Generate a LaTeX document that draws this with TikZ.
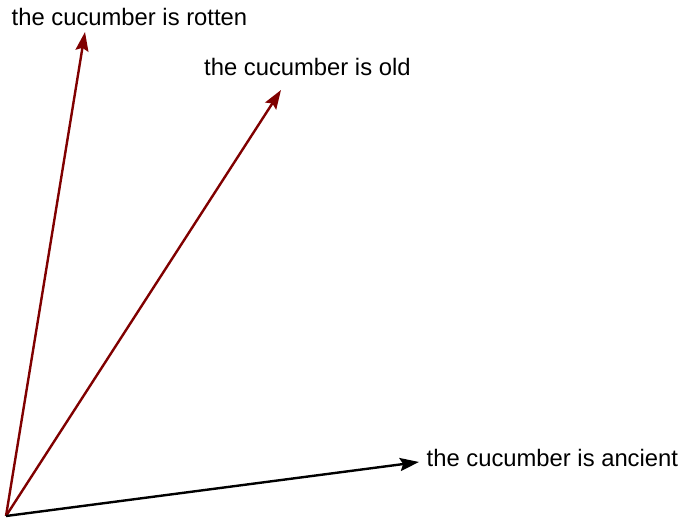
\documentclass[tikz,border=0pt]{standalone}
\usepackage{fontspec}
\setmainfont{Liberation Sans}
\usetikzlibrary{arrows.meta}
\definecolor{darkred}{HTML}{800000}
\begin{document}
\begin{tikzpicture}[x=1pt,y=-1pt,
  vec/.style={line width=2.4pt,-{Stealth[length=19pt,width=13pt,inset=3pt]}},
  lbl/.style={inner sep=0pt,anchor=base west,font=\fontsize{23.8}{28}\selectfont}]
\useasboundingbox (0,0) rectangle (683,518);
\coordinate (o) at (6,516);
\coordinate (r) at (85,32);
\coordinate (d) at (281,90);
\coordinate (a) at (419,462);
\draw[vec,darkred] (o) -- (r);
\draw[vec,darkred] (o) -- (d);
\draw[vec,black] (o) -- (a);
\node[lbl] (tr) at (11.5,26) {the cucumber is rotten};
\node[lbl] (td) at (204,76) {the cucumber is old};
\node[lbl] (ta) at (426.5,467) {the cucumber is ancient};
\end{tikzpicture}
\end{document}
